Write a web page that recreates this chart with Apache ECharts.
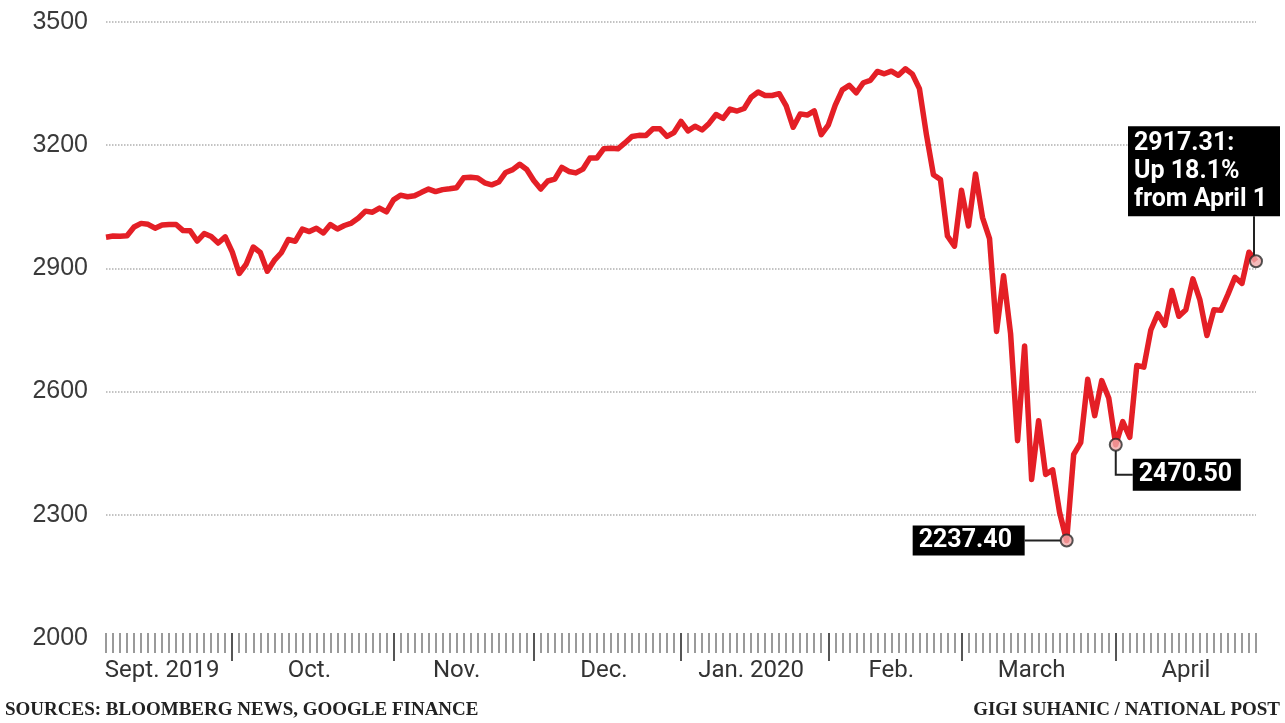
<!DOCTYPE html>
<html>
<head>
<meta charset="utf-8">
<script src="https://cdn.jsdelivr.net/npm/echarts@6/dist/echarts.min.js"></script>
<style>
  html, body { margin: 0; padding: 0; background: #fff; }
  #chart { width: 1285px; height: 723px; }
</style>
</head>
<body>
<div id="chart"></div>
<script>
// trading days, Sept 5 2019 .. Apr 30 2020
const tradingDays = [
  '2019-09-05','2019-09-06','2019-09-09','2019-09-10','2019-09-11','2019-09-12','2019-09-13','2019-09-16','2019-09-17','2019-09-18','2019-09-19','2019-09-20','2019-09-23','2019-09-24','2019-09-25','2019-09-26','2019-09-27','2019-09-30',
  '2019-10-01','2019-10-02','2019-10-03','2019-10-04','2019-10-07','2019-10-08','2019-10-09','2019-10-10','2019-10-11','2019-10-14','2019-10-15','2019-10-16','2019-10-17','2019-10-18','2019-10-21','2019-10-22','2019-10-23','2019-10-24','2019-10-25','2019-10-28','2019-10-29','2019-10-30','2019-10-31',
  '2019-11-01','2019-11-04','2019-11-05','2019-11-06','2019-11-07','2019-11-08','2019-11-11','2019-11-12','2019-11-13','2019-11-14','2019-11-15','2019-11-18','2019-11-19','2019-11-20','2019-11-21','2019-11-22','2019-11-25','2019-11-26','2019-11-27','2019-11-29',
  '2019-12-02','2019-12-03','2019-12-04','2019-12-05','2019-12-06','2019-12-09','2019-12-10','2019-12-11','2019-12-12','2019-12-13','2019-12-16','2019-12-17','2019-12-18','2019-12-19','2019-12-20','2019-12-23','2019-12-24','2019-12-26','2019-12-27','2019-12-30','2019-12-31',
  '2020-01-02','2020-01-03','2020-01-06','2020-01-07','2020-01-08','2020-01-09','2020-01-10','2020-01-13','2020-01-14','2020-01-15','2020-01-16','2020-01-17','2020-01-21','2020-01-22','2020-01-23','2020-01-24','2020-01-27','2020-01-28','2020-01-29','2020-01-30','2020-01-31',
  '2020-02-03','2020-02-04','2020-02-05','2020-02-06','2020-02-07','2020-02-10','2020-02-11','2020-02-12','2020-02-13','2020-02-14','2020-02-18','2020-02-19','2020-02-20','2020-02-21','2020-02-24','2020-02-25','2020-02-26','2020-02-27','2020-02-28',
  '2020-03-02','2020-03-03','2020-03-04','2020-03-05','2020-03-06','2020-03-09','2020-03-10','2020-03-11','2020-03-12','2020-03-13','2020-03-16','2020-03-17','2020-03-18','2020-03-19','2020-03-20','2020-03-23','2020-03-24','2020-03-25','2020-03-26','2020-03-27','2020-03-30','2020-03-31',
  '2020-04-01','2020-04-02','2020-04-03','2020-04-06','2020-04-07','2020-04-08','2020-04-09','2020-04-13','2020-04-14','2020-04-15','2020-04-16','2020-04-17','2020-04-20','2020-04-21','2020-04-22','2020-04-23','2020-04-24','2020-04-27','2020-04-28','2020-04-29','2020-04-30'
];

const closes = [
  2976.0, 2978.7, 2978.4, 2979.4, 3000.9, 3009.6, 3007.4, 2997.9, 3005.7, 3006.7, 3006.8, 2992.1, 2991.8, 2966.6, 2984.9, 2977.6, 2961.8, 2976.7,
  2940.3, 2887.6, 2910.6, 2952.0, 2938.8, 2893.1, 2919.4, 2938.1, 2970.3, 2966.2, 2995.7, 2989.7, 2997.9, 2986.2, 3006.7, 2996.0, 3004.5, 3010.3, 3022.6, 3039.4, 3036.9, 3046.8, 3037.6,
  3066.9, 3078.3, 3074.6, 3076.8, 3085.2, 3093.1, 3087.0, 3091.8, 3094.0, 3096.6, 3120.5, 3122.0, 3120.2, 3108.5, 3103.5, 3110.3, 3133.6, 3140.5, 3153.6, 3141.0,
  3113.9, 3093.2, 3112.8, 3117.4, 3145.9, 3136.0, 3132.5, 3141.6, 3168.6, 3168.8, 3191.5, 3192.5, 3191.1, 3205.4, 3221.2, 3224.0, 3223.4, 3239.9, 3240.0, 3221.3, 3230.8,
  3257.9, 3234.9, 3246.3, 3237.2, 3253.1, 3274.7, 3265.4, 3288.1, 3283.2, 3289.3, 3316.8, 3329.6, 3321.0, 3321.1, 3325.5, 3295.5, 3243.6, 3276.2, 3273.4, 3283.7, 3225.5,
  3248.9, 3297.6, 3334.7, 3345.8, 3327.7, 3352.1, 3357.8, 3379.5, 3373.9, 3380.2, 3370.3, 3386.2, 3373.2, 3337.8, 3225.9, 3128.2, 3116.4, 2978.8, 2954.2,
  3090.2, 3003.4, 3130.1, 3023.9, 2972.4, 2746.6, 2882.2, 2741.4, 2480.6, 2711.0, 2386.1, 2529.2, 2398.1, 2409.4, 2304.9, 2237.4, 2447.3, 2475.6, 2630.1, 2541.5, 2626.7, 2584.6,
  2470.5, 2526.9, 2488.7, 2663.7, 2659.4, 2750.0, 2789.8, 2761.6, 2846.1, 2783.4, 2799.6, 2874.6, 2823.2, 2736.6, 2799.3, 2797.8, 2836.7, 2878.5, 2863.4, 2939.5, 2917.3
];

const monthLabels = ['Sept. 2019', 'Oct.', 'Nov.', 'Dec.', 'Jan. 2020', 'Feb.', 'March', 'April'];

const calloutDates = ['2020-03-23', '2020-04-01', '2020-04-30'];
const calloutTexts = ['2237.40', '2470.50', '2917.31:\nUp 18.1%\nfrom April 1'];

const chart = echarts.init(document.getElementById('chart'));

const monthOf = d => d.slice(0, 7);
const monthStart = tradingDays.map((d, i) => i > 0 && monthOf(d) !== monthOf(tradingDays[i - 1]));

// month name sits in the middle of that month's days
const labelAt = {};
let first = 0, m = 0;
for (let i = 1; i <= tradingDays.length; i++) {
  if (i === tradingDays.length || monthStart[i]) {
    labelAt[Math.floor((first + i - 1) / 2)] = monthLabels[m++];
    first = i;
  }
}

const calloutIdx = calloutDates.map(d => tradingDays.indexOf(d));

let option = {
  animation: false,
  grid: { left: 106, right: 29, top: 22, bottom: 85 },
  xAxis: [
    {
      type: 'category',
      data: tradingDays,
      boundaryGap: false,
      position: 'bottom',
      offset: -5,
      axisLine: { show: false },
      axisLabel: { show: false },
      axisTick: { interval: 0, length: 20, lineStyle: { color: '#7a7a7a', width: 1.5 } }
    },
    {
      type: 'category',
      data: tradingDays,
      boundaryGap: false,
      position: 'bottom',
      offset: -5,
      axisLine: { show: false },
      axisTick: {
        interval: i => monthStart[i],
        length: 28,
        lineStyle: { color: '#555', width: 2 }
      },
      axisLabel: {
        interval: i => labelAt[i] !== undefined,
        formatter: (v, i) => labelAt[i],
        margin: 26,
        fontFamily: 'Roboto',
        fontSize: 24,
        color: '#333'
      }
    }
  ],
  yAxis: {
    type: 'value',
    min: 2000,
    max: 3500,
    interval: 300,
    axisLine: { show: false },
    axisTick: { show: false },
    axisLabel: { margin: 18, formatter: v => String(v), fontFamily: 'Liberation Sans', fontSize: 25, color: '#3a3a3a' },
    splitLine: { showMinLine: false, lineStyle: { type: 'dotted', color: '#b0b0b0', width: 1.5 } }
  },
  series: [
    {
      type: 'line',
      data: closes,
      symbol: 'none',
      lineStyle: { color: '#e41f26', width: 5.5, join: 'round' },
      z: 2
    },
    {
      type: 'scatter',
      data: calloutIdx.map(i => [i, closes[i]]),
      symbolSize: 12,
      itemStyle: { color: '#f1aaaa', borderColor: '#2a2a2a', borderWidth: 2 },
      z: 5
    }
  ]
};

chart.setOption(option);

function calloutGraphics() {
  let g = [];
  let p = calloutIdx.map(i => chart.convertToPixel({ xAxisIndex: 0, yAxisIndex: 0 }, [i, closes[i]]));

  // 2237.40 : box to the left, horizontal leader
  let a = p[0];
  g.push({ type: 'line', shape: { x1: a[0] - 42, y1: a[1], x2: a[0] - 6, y2: a[1] }, style: { stroke: '#222', lineWidth: 2 }, z: 10 });
  g.push({ type: 'rect', shape: { x: a[0] - 154, y: a[1] - 15, width: 112, height: 30 }, style: { fill: '#000' }, z: 10 });
  g.push({ type: 'text', x: a[0] - 148, y: a[1], style: { text: calloutTexts[0], fill: '#fff', font: 'bold 25px Roboto', verticalAlign: 'middle' }, z: 11 });

  // 2470.50 : elbow down and right
  let b = p[1];
  g.push({ type: 'polyline', shape: { points: [[b[0], b[1] + 6], [b[0], b[1] + 30], [b[0] + 17, b[1] + 30]] }, style: { stroke: '#222', lineWidth: 2, fill: null }, z: 10 });
  g.push({ type: 'rect', shape: { x: b[0] + 17, y: b[1] + 14, width: 108, height: 32 }, style: { fill: '#000' }, z: 10 });
  g.push({ type: 'text', x: b[0] + 23, y: b[1] + 30, style: { text: calloutTexts[1], fill: '#fff', font: 'bold 25px Roboto', verticalAlign: 'middle' }, z: 11 });

  // 2917.31 : box above, vertical leader
  let c = p[2];
  g.push({ type: 'line', shape: { x1: c[0] - 2, y1: c[1] - 45, x2: c[0] - 2, y2: c[1] - 6 }, style: { stroke: '#222', lineWidth: 2 }, z: 10 });
  g.push({ type: 'rect', shape: { x: c[0] - 128, y: c[1] - 135, width: 152, height: 90 }, style: { fill: '#000' }, z: 10 });
  g.push({ type: 'text', x: c[0] - 122, y: c[1] - 132, style: { text: calloutTexts[2], fill: '#fff', font: 'bold 25px Roboto', lineHeight: 28 }, z: 11 });

  // credits
  g.push({ type: 'text', left: 5, top: 701, style: { text: 'SOURCES: BLOOMBERG NEWS, GOOGLE FINANCE', fill: '#222', font: 'bold 19px "Liberation Serif"' } });
  g.push({ type: 'text', right: 5, top: 701, style: { text: 'GIGI SUHANIC / NATIONAL POST', fill: '#222', font: 'bold 19px "Liberation Serif"' } });
  return g;
}

chart.setOption({ graphic: calloutGraphics() });
</script>
</body>
</html>
